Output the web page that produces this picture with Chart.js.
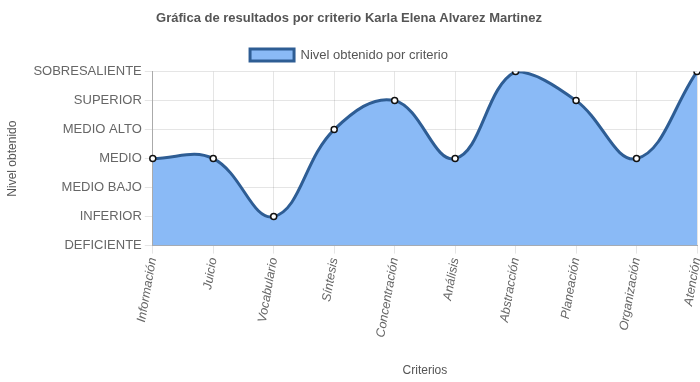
<!DOCTYPE html>
<html>
<head>
<meta charset="utf-8">
<script src="https://cdn.jsdelivr.net/npm/chart.js@4"></script>
<style>
  html, body { margin: 0; padding: 0; background: #fff; }
  .wrap { width: 700px; height: 382px; }
</style>
</head>
<body>
<div class="wrap"><canvas id="chart"></canvas></div>
<script>
        const criterios = ['Información', 'Juicio', 'Vocabulario', 'Síntesis', 'Concentración', 'Análisis', 'Abstracción', 'Planeación', 'Organización', 'Atención'];
        const niveles = ['DEFICIENTE', 'INFERIOR', 'MEDIO BAJO', 'MEDIO', 'MEDIO ALTO', 'SUPERIOR', 'SOBRESALIENTE'];
        const nivelObtenido = [3, 3, 1, 4, 5, 3, 6, 5, 3, 6];

        const sans = "'Liberation Sans', Arial, sans-serif";

        const ctx = document.getElementById('chart').getContext('2d');
        new Chart(ctx, {
            type: 'line',
            data: {
                labels: criterios,
                datasets: [{
                    label: 'Nivel obtenido por criterio',
                    data: nivelObtenido,
                    fill: true,
                    tension: 0.4,
                    backgroundColor: '#8abaf6',
                    borderColor: '#2e5d94',
                    borderWidth: 3,
                    pointRadius: 3,
                    pointBackgroundColor: '#ffffff',
                    pointBorderColor: '#111111',
                    pointBorderWidth: 1.5
                }]
            },
            options: {
                responsive: true,
                maintainAspectRatio: false,
                animation: false,
                layout: { autoPadding: false, padding: { left: 1, right: 3, top: 0, bottom: 0 } },
                plugins: {
                    title: {
                        display: true,
                        text: 'Gráfica de resultados por criterio Karla Elena Alvarez Martinez',
                        color: '#555',
                        font: { family: sans, size: 13, weight: 'bold' },
                        padding: { top: 11, bottom: 12 }
                    },
                    legend: {
                        labels: {
                            color: '#555',
                            boxWidth: 44,
                            boxHeight: 12,
                            font: { family: sans, size: 13 }
                        }
                    },
                    tooltip: { enabled: false }
                },
                scales: {
                    x: {
                        offset: false,
                        grid: { color: 'rgba(0,0,0,0.1)', tickLength: 8 },
                        border: { color: '#aaa' },
                        title: { display: true, text: 'Criterios', color: '#555', font: { family: sans, size: 12 }, padding: { top: 22 } },
                        ticks: {
                            color: '#666',
                            minRotation: 80,
                            maxRotation: 80,
                            font: { family: sans, size: 12.5, style: 'italic' }
                        },
                        afterFit: s => { s.paddingRight = 0; }
                    },
                    y: {
                        min: 0,
                        max: 6,
                        grid: { color: 'rgba(0,0,0,0.1)', tickLength: 8 },
                        border: { color: '#aaa' },
                        title: { display: true, text: 'Nivel obtenido', color: '#555', font: { family: sans, size: 12 }, padding: { top: 4, bottom: 11 } },
                        ticks: {
                            stepSize: 1,
                            color: '#666',
                            font: { family: sans, size: 13 },
                            callback: v => niveles[v]
                        }
                    }
                }
            }
        });
</script>
</body>
</html>
